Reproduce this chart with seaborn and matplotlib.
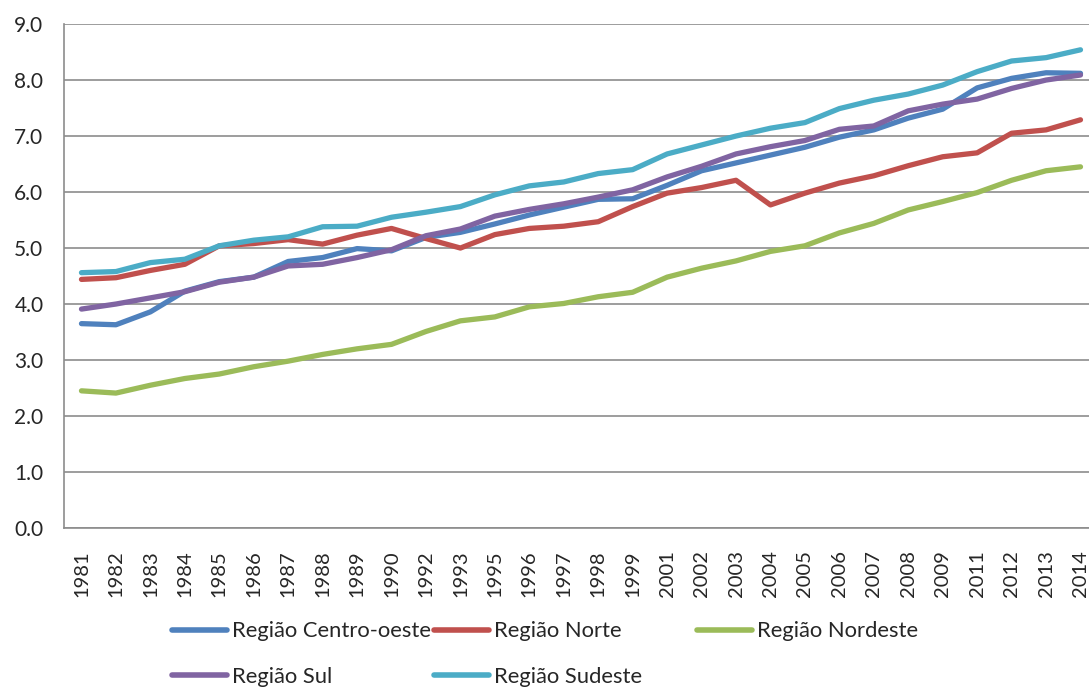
import pandas as pd
import seaborn as sns
import matplotlib.pyplot as plt
from matplotlib.lines import Line2D

years = ['1981', '1982', '1983', '1984', '1985', '1986', '1987', '1988', '1989', '1990',
         '1992', '1993', '1995', '1996', '1997', '1998', '1999', '2001', '2002', '2003',
         '2004', '2005', '2006', '2007', '2008', '2009', '2011', '2012', '2013', '2014']

centro_oeste = [3.65, 3.63, 3.86, 4.23, 4.40, 4.48, 4.76, 4.83, 4.99, 4.95,
                5.19, 5.28, 5.43, 5.59, 5.73, 5.87, 5.88, 6.12, 6.38, 6.52,
                6.66, 6.80, 6.98, 7.11, 7.32, 7.48, 7.86, 8.03, 8.13, 8.12]
norte = [4.44, 4.47, 4.60, 4.71, 5.04, 5.08, 5.15, 5.07, 5.23, 5.35,
         5.17, 5.00, 5.24, 5.35, 5.39, 5.47, 5.74, 5.98, 6.08, 6.21,
         5.77, 5.98, 6.16, 6.29, 6.47, 6.63, 6.70, 7.05, 7.11, 7.29]
nordeste = [2.45, 2.41, 2.55, 2.67, 2.75, 2.88, 2.98, 3.10, 3.20, 3.28,
            3.51, 3.70, 3.77, 3.95, 4.01, 4.13, 4.21, 4.48, 4.64, 4.77,
            4.94, 5.04, 5.27, 5.44, 5.68, 5.83, 5.99, 6.21, 6.38, 6.45]
sul = [3.91, 4.00, 4.11, 4.22, 4.39, 4.48, 4.68, 4.71, 4.83, 4.97,
       5.22, 5.34, 5.57, 5.69, 5.79, 5.91, 6.04, 6.27, 6.46, 6.68,
       6.81, 6.92, 7.12, 7.18, 7.45, 7.57, 7.66, 7.85, 8.00, 8.09]
sudeste = [4.56, 4.58, 4.74, 4.80, 5.04, 5.14, 5.20, 5.38, 5.39, 5.55,
           5.64, 5.74, 5.95, 6.11, 6.18, 6.33, 6.40, 6.68, 6.84, 7.00,
           7.14, 7.24, 7.49, 7.64, 7.75, 7.91, 8.15, 8.34, 8.40, 8.54]

series_names = ['Região Centro-oeste', 'Região Norte', 'Região Nordeste', 'Região Sul', 'Região Sudeste']
series_colors = ['#4F81BD', '#C0504D', '#9BBB59', '#8064A2', '#4BACC6']

df = pd.DataFrame({'ano': years,
                   series_names[0]: centro_oeste,
                   series_names[1]: norte,
                   series_names[2]: nordeste,
                   series_names[3]: sul,
                   series_names[4]: sudeste})
df_long = df.melt(id_vars='ano', var_name='regiao', value_name='valor')

sns.set_style('white')
plt.rcParams['font.family'] = ['Lato', 'DejaVu Sans']

fig = plt.figure(figsize=(10.89, 6.87), dpi=100)
ax = fig.add_axes([0.059, 0.2314, 0.949, 0.7336])

sns.lineplot(data=df_long, x='ano', y='valor', hue='regiao', hue_order=series_names,
             palette=series_colors, linewidth=3.8, legend=False, ax=ax,
             solid_capstyle='round', solid_joinstyle='round')

grid_color = '#8C8C8C'
ax.set_ylim(0, 9)
ax.set_yticks([i for i in range(10)])
ax.set_yticklabels([f'{i:.1f}' for i in range(10)], fontsize=15)
ax.yaxis.grid(True, color=grid_color, linewidth=1.2)
ax.set_axisbelow(True)

ax.set_xlim(-0.5, len(years) - 0.5)
ax.set_xticks(range(len(years)))
ax.set_xticklabels(years, rotation=90, fontsize=14.5)
ax.set_xticks([i - 0.5 for i in range(len(years) + 1)], minor=True)
ax.tick_params(axis='x', which='major', length=0, pad=16)
ax.tick_params(axis='x', which='minor', length=6, width=1.2, color=grid_color, direction='out')
ax.tick_params(axis='y', length=6, width=1.2, color=grid_color, direction='out', pad=9)
ax.set_xlabel('')
ax.set_ylabel('')

for side in ['top', 'right']:
    ax.spines[side].set_visible(False)
for side in ['left', 'bottom']:
    ax.spines[side].set_color(grid_color)
    ax.spines[side].set_linewidth(1.2)

handles = [Line2D([0], [0], color=c, linewidth=4, solid_capstyle='round') for c in series_colors]
legend_cols = [([0, 3], 0.158), ([1, 4], 0.3985), ([2], 0.640)]
for idx, xpos in legend_cols:
    leg = fig.legend([handles[i] for i in idx], [series_names[i] for i in idx],
                     loc='upper left', bbox_to_anchor=(xpos, 0.0954), frameon=False,
                     fontsize=15.8, handlelength=2.5, handletextpad=0.25,
                     labelspacing=1.15, borderpad=0, borderaxespad=0)

fig.savefig('out.png', dpi=100)
